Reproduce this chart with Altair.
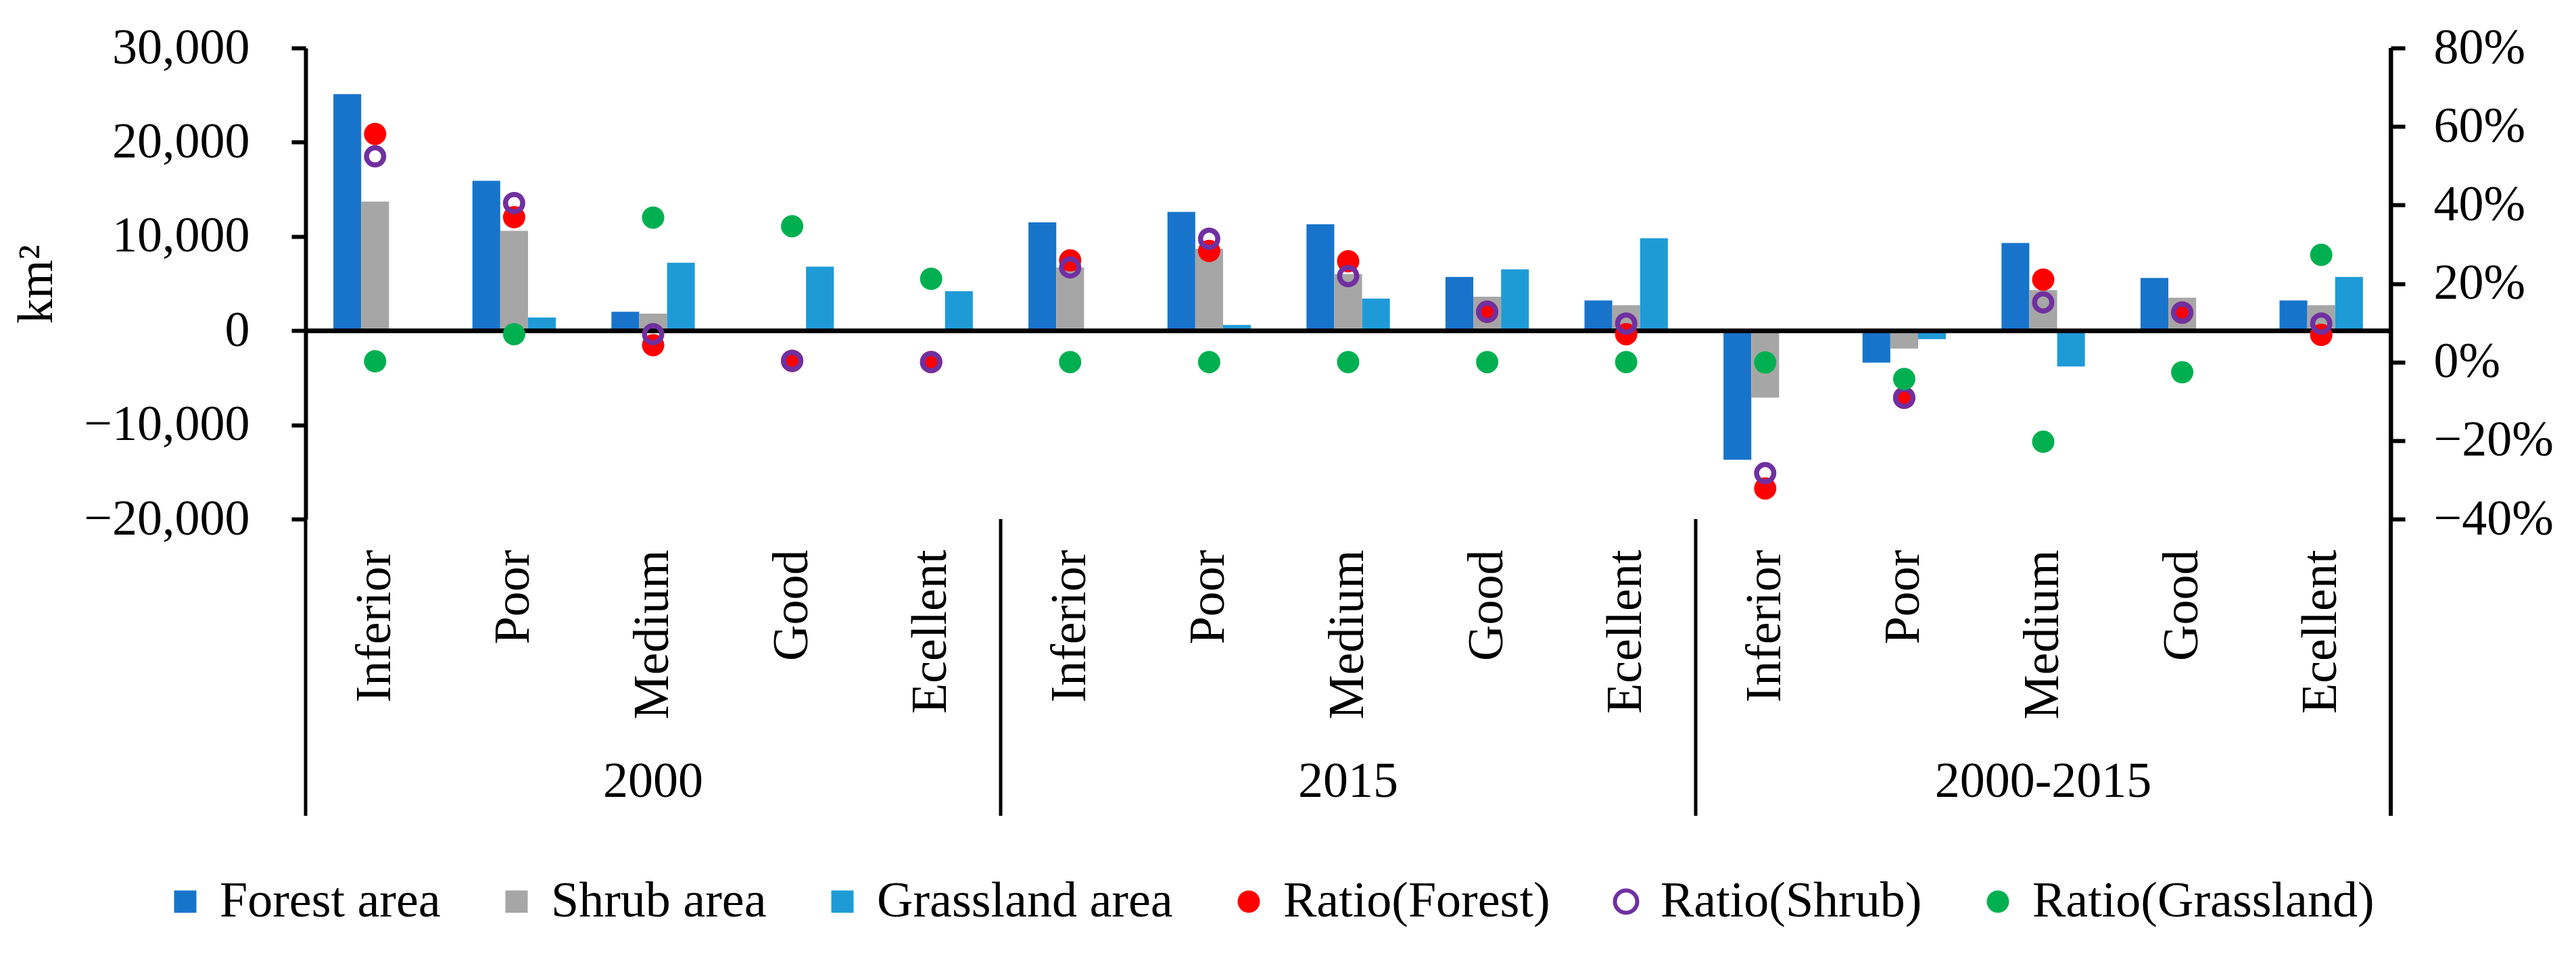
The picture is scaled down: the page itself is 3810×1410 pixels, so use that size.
import altair as alt
import pandas as pd

groups = ["2000", "2015", "2000-2015"]
levels = ["Inferior", "Poor", "Medium", "Good", "Ecellent"]

forest_area = [25100, 15900, 2000, 0, 0, 11500, 12600, 11300, 5700, 3200, -13700, -3400, 9300, 5600, 3200]
shrub_area = [13700, 10600, 1800, 0, 0, 6700, 8700, 6000, 3600, 2700, -7100, -1900, 4300, 3500, 2700]
grass_area = [0, 1400, 7200, 6800, 4200, 0, 600, 3400, 6500, 9800, 0, -900, -3800, 0, 5700]

ratio_forest = [0.581, 0.369, 0.043, 0.003, 0.0, 0.259, 0.283, 0.257, 0.128, 0.071, -0.322, -0.091, 0.210, 0.126, 0.069]
ratio_shrub = [0.524, 0.405, 0.071, 0.003, 0.0, 0.241, 0.314, 0.219, 0.128, 0.098, -0.283, -0.091, 0.152, 0.126, 0.098]
ratio_grass = [0.002, 0.071, 0.368, 0.346, 0.212, 0.0, 0.0, 0.0, 0.0, 0.0, -0.001, -0.043, -0.203, -0.026, 0.273]

bar_series = ["Forest area", "Shrub area", "Grassland area"]
ratio_series = ["Ratio(Forest)", "Ratio(Shrub)", "Ratio(Grassland)"]
all_series = bar_series + ratio_series
fill_colors = ["#1874CB", "#A6A6A6", "#1E9BD7", "#FF0000", "transparent", "#00B050"]
stroke_colors = ["transparent", "transparent", "transparent", "transparent", "#7030A0", "transparent"]
shapes = ["square", "square", "square", "circle", "circle", "circle"]

cats = [f"{g}|{l}" for g in groups for l in levels]

bar_rows = []
for vals, s in zip([forest_area, shrub_area, grass_area], bar_series):
    for c, v in zip(cats, vals):
        bar_rows.append({"cat": c, "series": s, "value": v})
bars_df = pd.DataFrame(bar_rows)

ratio_rows = []
for vals, s in zip([ratio_forest, ratio_shrub, ratio_grass], ratio_series):
    for c, v in zip(cats, vals):
        ratio_rows.append({"cat": c, "series": s, "ratio": v})
ratio_df = pd.DataFrame(ratio_rows)

sep_df = pd.DataFrame({"cat": [f"{g}|{levels[0]}" for g in groups]})
end_df = pd.DataFrame({"cat": [f"{groups[-1]}|{levels[-1]}"]})
grp_df = pd.DataFrame({"cat": [f"{g}|{levels[2]}" for g in groups], "label": groups})

FONT = "Liberation Serif"
FS = 74
W, H = 3084, 697

xscale = alt.Scale(domain=cats, paddingInner=0, paddingOuter=0)
fill_scale = alt.Scale(domain=all_series, range=fill_colors)
stroke_scale = alt.Scale(domain=all_series, range=stroke_colors)
shape_scale = alt.Scale(domain=all_series, range=shapes)

leg = alt.Legend(
    title=None, orient="none", direction="horizontal", legendX=-215, legendY=1226,
    labelFont=FONT, labelFontSize=FS, labelLimit=2000, symbolSize=1089,
    symbolStrokeWidth=6, columnPadding=75, labelOffset=14, labelColor="black",
)

x_axis = alt.Axis(
    labelExpr="split(datum.label, '|')[1]", labelAngle=-90, ticks=False, tickSize=0,
    domain=False, labelPadding=45, labelFont=FONT, labelFontSize=FS, labelLimit=2000,
    title=None, labelColor="black", labelAlign="right", labelBaseline="middle",
)

left_axis = alt.Axis(
    values=[-20000, -10000, 0, 10000, 20000, 30000], format=",.0f", orient="left",
    labelFont=FONT, labelFontSize=FS, labelColor="black", labelPadding=62,
    tickSize=21, tickWidth=6, tickColor="black", domainColor="black", domainWidth=6,
    labelLimit=2000, title="km²", titleFont=FONT, titleFontSize=FS,
    titleFontWeight="normal", titleColor="black", titleX=-398, titleY=349,
    titleAngle=-90, titleAlign="center", titleBaseline="middle",
)

right_axis = alt.Axis(
    values=[-0.4, -0.2, 0, 0.2, 0.4, 0.6, 0.8], format=".0%", orient="right",
    labelFont=FONT, labelFontSize=FS, labelColor="black", labelPadding=42,
    tickSize=21, tickWidth=6, tickColor="black", domainColor="black", domainWidth=6,
    labelLimit=2000, title=None,
)

X = alt.X("cat:N", sort=cats, scale=xscale, axis=x_axis)

bars = alt.Chart(bars_df).mark_bar().encode(
    x=X,
    xOffset=alt.XOffset("series:N", sort=bar_series,
                        scale=alt.Scale(domain=bar_series, paddingInner=0, paddingOuter=1)),
    y=alt.Y("value:Q", scale=alt.Scale(domain=[-20000, 30000], nice=False, zero=False), axis=left_axis),
    fill=alt.Fill("series:N", scale=fill_scale, legend=leg),
)

zero = alt.Chart(bars_df).mark_rule(color="black", strokeWidth=6).encode(
    y=alt.datum(0)
)

seps = alt.Chart(sep_df).mark_rule(color="black", strokeWidth=5).encode(
    x=alt.X("cat:N", sort=cats, scale=xscale, bandPosition=0, axis=x_axis),
    y=alt.value(H), y2=alt.value(1136),
)
seps_end = alt.Chart(end_df).mark_rule(color="black", strokeWidth=6).encode(
    x=alt.X("cat:N", sort=cats, scale=xscale, bandPosition=1, axis=x_axis),
    y=alt.value(0), y2=alt.value(1136),
)
grp_text = alt.Chart(grp_df).mark_text(font=FONT, fontSize=FS, baseline="middle", align="center", color="black").encode(
    x=X,
    y=alt.value(1086),
    text="label:N",
)

left = alt.layer(bars, zero, seps, seps_end, grp_text)

def pts(series, size, sw):
    return alt.Chart(ratio_df).transform_filter(
        alt.datum.series == series
    ).mark_point(filled=True, size=size, strokeWidth=sw, opacity=1).encode(
        x=X,
        y=alt.Y("ratio:Q", scale=alt.Scale(domain=[-0.4, 0.8], nice=False, zero=False), axis=right_axis),
        fill=alt.Fill("series:N", scale=fill_scale, legend=leg),
        stroke=alt.Stroke("series:N", scale=stroke_scale, legend=leg),
        shape=alt.Shape("series:N", scale=shape_scale, legend=leg),
    )

right = alt.layer(pts("Ratio(Forest)", 1089, 0), pts("Ratio(Shrub)", 650, 7.5), pts("Ratio(Grassland)", 1089, 0))

chart = alt.layer(left, right).resolve_scale(y="independent").properties(
    width=W, height=H,
    autosize=alt.AutoSizeParams(type="none"),
    padding={"left": 444, "top": 63, "right": 266, "bottom": 634},
    background="white",
).configure_view(stroke=None).configure_axis(grid=False)

chart.save("out.html", embed_options={"renderer": "svg", "actions": False})
